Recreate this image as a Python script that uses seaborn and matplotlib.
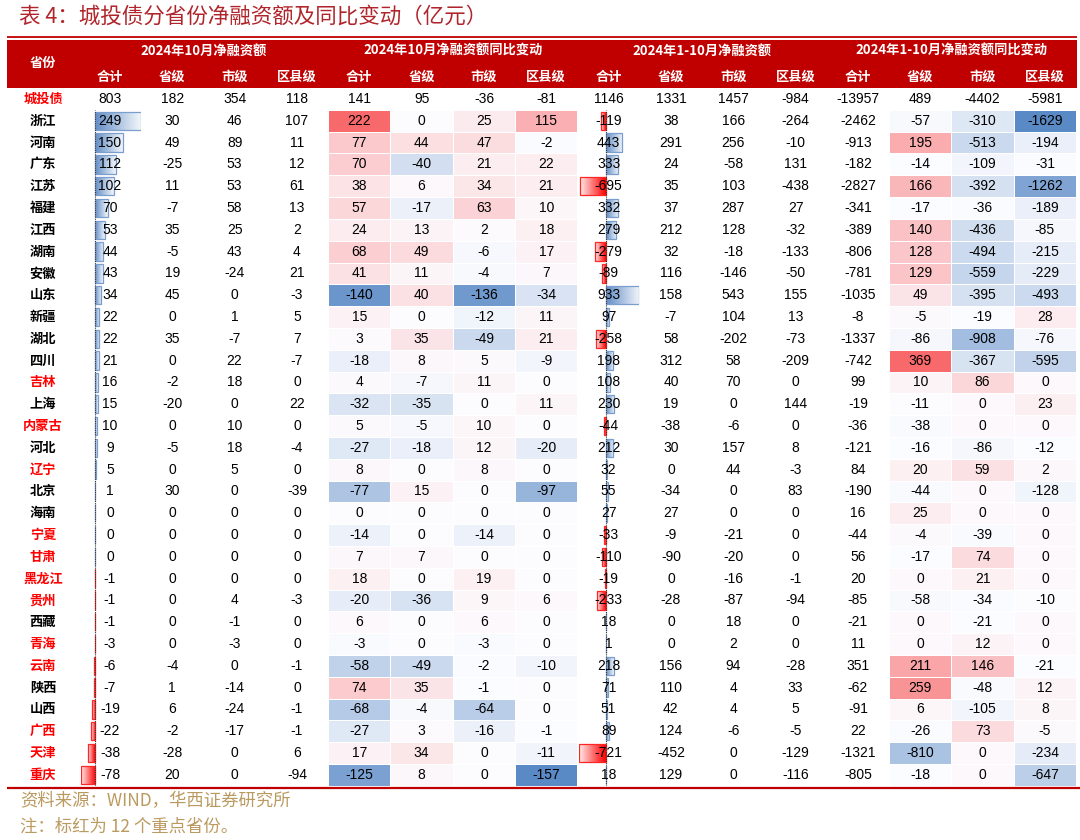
import numpy as np
import pandas as pd
import matplotlib
matplotlib.use("Agg")
import matplotlib.pyplot as plt
import seaborn as sns
from matplotlib.colors import LinearSegmentedColormap, TwoSlopeNorm, to_rgb
from matplotlib.patches import Rectangle

# ---- data (亿元) ----
rows = ["城投债", "浙江", "河南", "广东", "江苏", "福建", "江西", "湖南", "安徽", "山东",
        "新疆", "湖北", "四川", "吉林", "上海", "内蒙古", "河北", "辽宁", "北京", "海南",
        "宁夏", "甘肃", "黑龙江", "贵州", "西藏", "青海", "云南", "陕西", "山西", "广西",
        "天津", "重庆"]
key_provinces = ["吉林", "内蒙古", "辽宁", "宁夏", "甘肃", "黑龙江", "贵州", "青海",
                 "云南", "广西", "天津", "重庆"]

group_titles = ["2024年10月净融资额", "2024年10月净融资额同比变动",
                "2024年1-10月净融资额", "2024年1-10月净融资额同比变动"]
sub_titles = ["合计", "省级", "市级", "区县级"]

oct_sum = [803, 249, 150, 112, 102, 70, 53, 44, 43, 34, 22, 22, 21, 16, 15, 10, 9, 5, 1, 0,
           0, 0, -1, -1, -1, -3, -6, -7, -19, -22, -38, -78]
oct_prov = [182, 30, 49, -25, 11, -7, 35, -5, 19, 45, 0, 35, 0, -2, -20, 0, -5, 0, 30, 0,
            0, 0, 0, 0, 0, 0, -4, 1, 6, -2, -28, 20]
oct_city = [354, 46, 89, 53, 53, 58, 25, 43, -24, 0, 1, -7, 22, 18, 0, 10, 18, 5, 0, 0,
            0, 0, 0, 4, -1, -3, 0, -14, -24, -17, 0, 0]
oct_county = [118, 107, 11, 12, 61, 13, 2, 4, 21, -3, 5, 7, -7, 0, 22, 0, -4, 0, -39, 0,
              0, 0, 0, -3, 0, 0, -1, 0, -1, -1, 6, -94]

oct_yoy_sum = [141, 222, 77, 70, 38, 57, 24, 68, 41, -140, 15, 3, -18, 4, -32, 5, -27, 8, -77, 0,
               -14, 7, 18, -20, 6, -3, -58, 74, -68, -27, 17, -125]
oct_yoy_prov = [95, 0, 44, -40, 6, -17, 13, 49, 11, 40, 0, 35, 8, -7, -35, -5, -18, 0, 15, 0,
                0, 7, 0, -36, 0, 0, -49, 35, -4, 3, 34, 8]
oct_yoy_city = [-36, 25, 47, 21, 34, 63, 2, -6, -4, -136, -12, -49, 5, 11, 0, 10, 12, 8, 0, 0,
                -14, 0, 19, 9, 6, -3, -2, -1, -64, -16, 0, 0]
oct_yoy_county = [-81, 115, -2, 22, 21, 10, 18, 17, 7, -34, 11, 21, -9, 0, 11, 0, -20, 0, -97, 0,
                  0, 0, 0, 6, 0, 0, -10, 0, 0, -1, -11, -157]

ytd_sum = [1146, -119, 443, 333, -695, 332, 279, -279, -89, 933, 97, -258, 198, 108, 230, -44,
           212, 32, 55, 27, -33, -110, -19, -233, 18, 1, 218, 71, 51, 89, -721, 18]
ytd_prov = [1331, 38, 291, 24, 35, 37, 212, 32, 116, 158, -7, 58, 312, 40, 19, -38, 30, 0, -34,
            27, -9, -90, 0, -28, 0, 0, 156, 110, 42, 124, -452, 129]
ytd_city = [1457, 166, 256, -58, 103, 287, 128, -18, -146, 543, 104, -202, 58, 70, 0, -6, 157,
            44, 0, 0, -21, -20, -16, -87, 18, 2, 94, 4, 4, -6, 0, 0]
ytd_county = [-984, -264, -10, 131, -438, 27, -32, -133, -50, 155, 13, -73, -209, 0, 144, 0, 8,
              -3, 83, 0, 0, 0, -1, -94, 0, 0, -28, 33, 5, -5, -129, -116]

ytd_yoy_sum = [-13957, -2462, -913, -182, -2827, -341, -389, -806, -781, -1035, -8, -1337, -742,
               99, -19, -36, -121, 84, -190, 16, -44, 56, 20, -85, -21, 11, 351, -62, -91, 22,
               -1321, -805]
ytd_yoy_prov = [489, -57, 195, -14, 166, -17, 140, 128, 129, 49, -5, -86, 369, 10, -11, -38, -16,
                20, -44, 25, -4, -17, 0, -58, 0, 0, 211, 259, 6, -26, -810, -18]
ytd_yoy_city = [-4402, -310, -513, -109, -392, -36, -436, -494, -559, -395, -19, -908, -367, 86,
                0, 0, -86, 59, 0, 0, -39, 74, 21, -34, -21, 12, 146, -48, -105, 73, 0, 0]
ytd_yoy_county = [-5981, -1629, -194, -31, -1262, -189, -85, -215, -229, -493, 28, -76, -595, 0,
                  23, 0, -12, 2, -128, 0, 0, 0, 0, -10, 0, 0, -21, 12, 8, -5, -234, -647]

columns = [oct_sum, oct_prov, oct_city, oct_county,
           oct_yoy_sum, oct_yoy_prov, oct_yoy_city, oct_yoy_county,
           ytd_sum, ytd_prov, ytd_city, ytd_county,
           ytd_yoy_sum, ytd_yoy_prov, ytd_yoy_city, ytd_yoy_county]

# ---- layout (pixels) ----
W, H = 1080, 840
col_x0, col_w = 78.8, 62.33
row_y0, row_h = 88.1, 21.8
n_rows = len(rows)
name_x = 43
RED = "#c00000"
NUM_FONT = "Liberation Sans"

heat_blocks = [(4, 8), (13, 16)]   # columns coloured as heatmaps
bar_cols = [0, 8]                  # columns with data bars


def col_left(k):
    return col_x0 + k * col_w


def row_mid(i):
    return row_y0 + (i + 0.5) * row_h


def fig_rect(x0, y0, x1, y1):
    return [x0 / W, 1 - y1 / H, (x1 - x0) / W, (y1 - y0) / H]


sns.set_style("white")
plt.rcParams['font.family'] = ['Noto Sans CJK SC', 'DejaVu Sans']

fig = plt.figure(figsize=(W / 100, H / 100), dpi=100)
ax = fig.add_axes([0, 0, 1, 1], zorder=3)
ax.set_xlim(0, W)
ax.set_ylim(H, 0)
ax.axis('off')
ax.patch.set_alpha(0)

# title
ax.text(19, 17, "表 4：城投债分省份净融资额及同比变动（亿元）", fontsize=15.5,
        color="#b0252b", va='center', ha='left')

# header block
ax.plot([7, 1077], [37, 37], color=RED, lw=1.3, solid_capstyle='butt')
ax.add_patch(Rectangle((7, 39.5), 1070, row_y0 - 39.5, color=RED, lw=0))
ax.text(name_x, 63, "省份", color='white', fontsize=9.5, fontweight='bold',
        ha='center', va='center')
for g, title in enumerate(group_titles):
    cx = col_left(4 * g + 2)
    ax.text(cx, 50.5, title, color='white', fontsize=9.5, fontweight='bold',
            ha='center', va='center')
    for j, sub in enumerate(sub_titles):
        ax.text(col_left(4 * g + j) + col_w / 2, 76.5, sub, color='white', fontsize=9.5,
                fontweight='bold', ha='center', va='center')

# row names
for i, name in enumerate(rows):
    color = "#ff0000" if (i == 0 or name in key_provinces) else "black"
    ax.text(name_x, row_mid(i), name, color=color, fontsize=9.5, fontweight='bold',
            ha='center', va='center')

# plain numbers (total row everywhere, other rows outside heatmap blocks)
heat_cols = [k for a, b in heat_blocks for k in range(a, b)]
for k, vals in enumerate(columns):
    cx = col_left(k) + col_w / 2
    for i, v in enumerate(vals):
        if i > 0 and k in heat_cols:
            continue
        ax.text(cx, row_mid(i), f"{v}", fontsize=10, family=NUM_FONT,
                ha='center', va='center', color='black')

# heatmap blocks (Excel style 3-colour scale)
cmap = LinearSegmentedColormap.from_list("xl3", ["#5A8AC6", "#FCFCFF", "#F8696B"])
for a, b in heat_blocks:
    df = pd.DataFrame({sub_titles[k - a]: columns[k][1:] for k in range(a, b)},
                      index=rows[1:])
    vals = df.values.ravel()
    norm = TwoSlopeNorm(vmin=vals.min(), vcenter=np.percentile(vals, 50), vmax=vals.max())
    hax = fig.add_axes(fig_rect(col_left(a), row_y0 + row_h, col_left(b),
                                row_y0 + n_rows * row_h), zorder=1)
    sns.heatmap(df, ax=hax, cmap=cmap, norm=norm, annot=True, fmt='d', cbar=False,
                linewidths=0.4, linecolor='white', xticklabels=False, yticklabels=False,
                annot_kws={'fontsize': 10, 'color': 'black', 'family': NUM_FONT})
    hax.axis('off')

# data bars with gradient fill
bar_colors = {True: to_rgb("#638EC6"), False: to_rgb("#FF0000")}
for k in bar_cols:
    vals = np.array(columns[k][1:])
    vmin, vmax = vals.min(), vals.max()
    bax = fig.add_axes(fig_rect(col_left(k) + 2, row_y0 + row_h, col_left(k) + 62,
                                row_y0 + n_rows * row_h), zorder=1)
    sns.barplot(x=vals, y=rows[1:], orient='h', ax=bax, width=0.84, color="#638EC6")
    t = np.linspace(0, 1, 64)
    for p in list(bax.patches):
        w = p.get_width()
        x0, y0, h = p.get_x(), p.get_y(), p.get_height()
        base = np.array(bar_colors[w >= 0])
        grad = base[None, :] * (1 - 0.92 * t[:, None]) + 0.92 * t[:, None]
        if w < 0:
            grad = grad[::-1]
        xl, xr = min(x0, x0 + w), max(x0, x0 + w)
        im = bax.imshow(grad[None, :, :], extent=[xl, xr, y0 + h, y0], aspect='auto',
                        interpolation='bilinear', zorder=2)
        im.set_clip_path(p)
        p.set_facecolor('none')
        p.set_edgecolor(base * 0.85 + 0.15)
        p.set_linewidth(0.9)
        p.set_zorder(3)
    bax.axvline(0, color='#333333', lw=0.8, ls=(0, (1, 1)), zorder=4)
    bax.set_xlim(vmin, vmax)
    bax.set_ylim(len(vals) - 0.5, -0.5)
    bax.axis('off')

# bottom rule and notes
ax.plot([7, 1080], [787.7, 787.7], color=RED, lw=1.6, solid_capstyle='butt')
ax.text(20, 801, "资料来源：WIND，华西证券研究所", color="#bb9a60", fontsize=12.5,
        ha='left', va='center')
ax.text(20, 827, "注：标红为 12 个重点省份。", color="#bb9a60", fontsize=12.5,
        ha='left', va='center')

fig.savefig("out.png", dpi=100)
